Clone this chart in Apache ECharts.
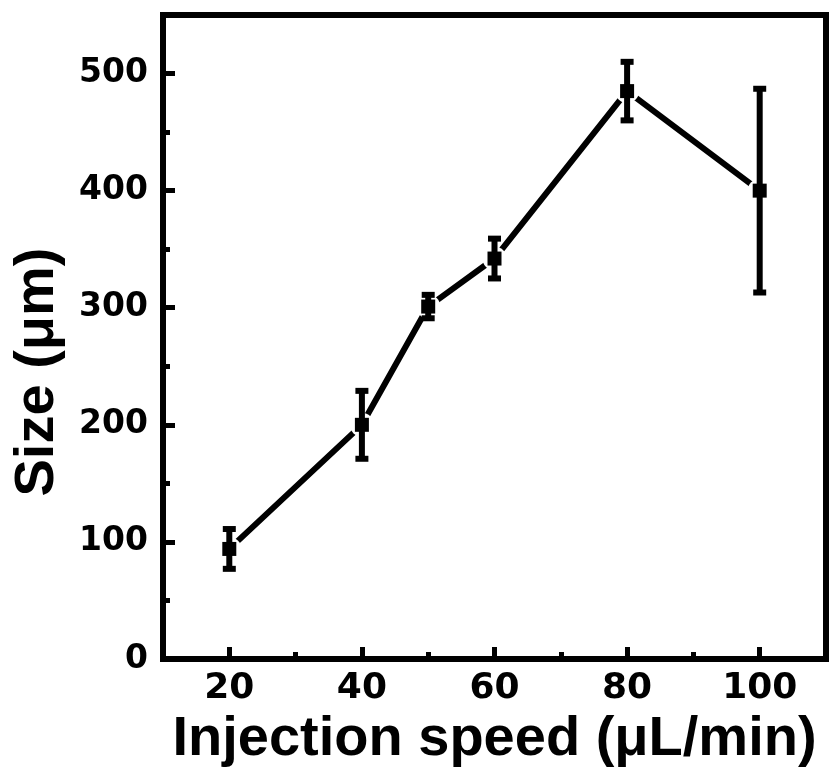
<!DOCTYPE html>
<html>
<head>
<meta charset="utf-8">
<script src="https://cdn.jsdelivr.net/npm/echarts@6/dist/echarts.min.js"></script>
<style>
  html, body { margin: 0; padding: 0; background: #fff; }
  #chart { width: 831px; height: 776px; }
</style>
</head>
<body>
<div id="chart"></div>
<script>
// injection speed (µL/min) and measured size (µm)
var speeds = [20, 40, 50, 60, 80, 100];
var sizes = [94, 200, 301, 342, 485, 400];
var errors = [17, 29, 10, 17, 25, 87];

var xLabels = [20, 40, 60, 80, 100];
var xMinor = [30, 50, 70, 90];
var yLabels = [0, 100, 200, 300, 400, 500];
var yMinor = [50, 150, 250, 350, 450];

var points = speeds.map(function (s, i) { return [s, sizes[i]]; });
var bars = speeds.map(function (s, i) { return [s, sizes[i] - errors[i], sizes[i] + errors[i]]; });

var chart = echarts.init(document.getElementById('chart'));

var option = {
  backgroundColor: '#fff',
  animation: false,
  grid: {
    left: 163, right: 5, top: 15, bottom: 117,
    show: true,
    borderColor: '#000',
    borderWidth: 6
  },
  xAxis: [
    {
      type: 'value', min: 10, max: 110,
      name: 'Injection speed (μL/min)',
      nameLocation: 'middle',
      nameGap: 51,
      nameTextStyle: { fontFamily: 'Liberation Sans', fontWeight: 'bold', fontSize: 56, color: '#000' },
      axisLine: { show: true, lineStyle: { color: '#000', width: 6 } },
      axisTick: { show: true, inside: true, length: 12, customValues: xLabels, lineStyle: { color: '#000', width: 5 } },
      axisLabel: { customValues: xLabels, margin: 12, fontFamily: 'DejaVu Sans', fontWeight: 'bold', fontSize: 36, color: '#000' },
      splitLine: { show: false }
    },
    {
      type: 'value', min: 10, max: 110, position: 'bottom',
      axisLine: { show: false },
      axisTick: { show: true, inside: true, length: 7, customValues: xMinor, lineStyle: { color: '#000', width: 5 } },
      axisLabel: { show: false },
      splitLine: { show: false }
    }
  ],
  yAxis: [
    {
      type: 'value', min: 0, max: 550, position: 'left',
      name: 'Size (μm)',
      nameLocation: 'middle',
      nameGap: 97,
      nameRotate: 90,
      nameTextStyle: { fontFamily: 'Liberation Sans', fontWeight: 'bold', fontSize: 56, color: '#000', padding: [0, 70, 0, 0] },
      axisLine: { show: true, lineStyle: { color: '#000', width: 6 } },
      axisTick: { show: true, inside: true, length: 12, customValues: yLabels, lineStyle: { color: '#000', width: 5 } },
      axisLabel: { customValues: yLabels, margin: 15, fontFamily: 'DejaVu Sans', fontWeight: 'bold', fontSize: 33, color: '#000' },
      splitLine: { show: false }
    },
    {
      type: 'value', min: 0, max: 550, position: 'left',
      axisLine: { show: false },
      axisTick: { show: true, inside: true, length: 7, customValues: yMinor, lineStyle: { color: '#000', width: 5 } },
      axisLabel: { show: false },
      splitLine: { show: false }
    }
  ],
  series: [
    {
      type: 'line',
      data: points,
      symbol: 'none',
      lineStyle: { color: '#000', width: 6 },
      z: 1
    },
    {
      // white halo that leaves a gap between the line and each marker
      type: 'scatter',
      data: points,
      symbol: 'circle',
      symbolSize: 24,
      itemStyle: { color: '#fff', opacity: 1 },
      silent: true,
      z: 2
    },
    {
      type: 'custom',
      data: bars,
      renderItem: function (params, api) {
        var x = api.value(0);
        var lo = api.coord([x, api.value(1)]);
        var hi = api.coord([x, api.value(2)]);
        var capW = 13, capH = 6;
        return {
          type: 'group',
          children: [
            { type: 'line', shape: { x1: lo[0], y1: lo[1], x2: hi[0], y2: hi[1] }, style: { stroke: '#000', lineWidth: 6 } },
            { type: 'rect', shape: { x: hi[0] - capW / 2, y: hi[1] - capH / 2, width: capW, height: capH }, style: { fill: '#000' } },
            { type: 'rect', shape: { x: lo[0] - capW / 2, y: lo[1] - capH / 2, width: capW, height: capH }, style: { fill: '#000' } }
          ]
        };
      },
      z: 3
    },
    {
      type: 'scatter',
      data: points,
      symbol: 'rect',
      symbolSize: 14,
      itemStyle: { color: '#000', opacity: 1 },
      z: 4
    }
  ]
};

chart.setOption(option);
</script>
</body>
</html>
